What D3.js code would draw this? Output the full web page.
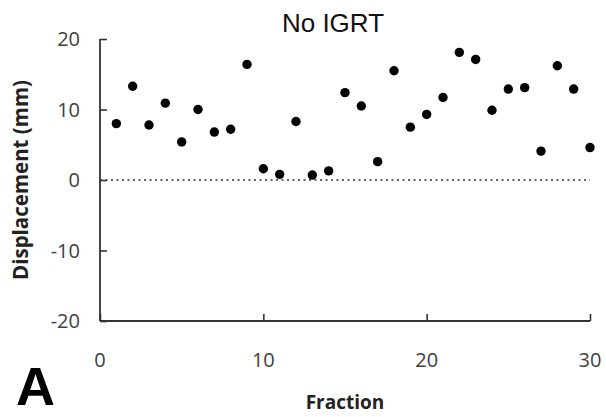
<!DOCTYPE html>
<html>
<head>
<meta charset="utf-8">
<script src="https://cdn.jsdelivr.net/npm/d3@7"></script>
<style>
  body { margin: 0; background: #fff; }
  svg { display: block; }
</style>
</head>
<body>
<svg id="chart" width="606" height="417"></svg>
<script>
// fraction number and measured displacement (mm)
var fractions = d3.range(1, 31);
var displacement = [8.0, 13.3, 7.8, 10.9, 5.4, 10.0, 6.8, 7.2, 16.4, 1.6,
                    0.8, 8.3, 0.7, 1.3, 12.4, 10.5, 2.6, 15.5, 7.5, 9.3,
                    11.7, 18.1, 17.1, 9.9, 12.9, 13.1, 4.1, 16.2, 12.9, 4.6];
var xTicks = [0, 10, 20, 30];
var yTicks = [-20, -10, 0, 10, 20];

var svg = d3.select("#chart");

var x = d3.scaleLinear().domain([0, 30]).range([100, 590]);
var y = d3.scaleLinear().domain([-20, 20]).range([321, 39]);

// axes
var yAxis = svg.append("g")
        .attr("transform", "translate(" + x(0) + ",0)")
        .call(d3.axisRight(y).tickValues(yTicks).tickSize(7).tickFormat(""));
var xAxis = svg.append("g")
        .attr("transform", "translate(0," + y(-20) + ")")
        .call(d3.axisTop(x).tickValues(xTicks).tickSize(7).tickFormat(""));

svg.selectAll(".domain").remove();
svg.selectAll(".tick line")
        .style("stroke", "#333")
        .style("stroke-width", 1.6);

svg.append("line")
        .attr("x1", x(0)).attr("x2", x(0))
        .attr("y1", y(20)).attr("y2", y(-20))
        .style("stroke", "#333")
        .style("stroke-width", 1.8);
svg.append("line")
        .attr("x1", x(0)).attr("x2", x(30))
        .attr("y1", y(-20)).attr("y2", y(-20))
        .style("stroke", "#333")
        .style("stroke-width", 1.8);

// tick labels
svg.selectAll(".ylab")
        .data(yTicks)
        .enter().append("text")
        .attr("class", "ylab")
        .attr("x", 80)
        .attr("y", function(d){ return y(d) + 7; })
        .attr("text-anchor", "end")
        .style("font-family", "'Open Sans', sans-serif")
        .style("font-size", "20px")
        .style("fill", "#404040")
        .text(function(d){ return d; });

svg.selectAll(".xlab")
        .data(xTicks)
        .enter().append("text")
        .attr("class", "xlab")
        .attr("x", function(d){ return x(d); })
        .attr("y", 367)
        .attr("text-anchor", "middle")
        .style("font-family", "'Open Sans', sans-serif")
        .style("font-size", "20px")
        .style("fill", "#404040")
        .text(function(d){ return d; });

// zero reference line
svg.append("line")
        .attr("x1", x(0)).attr("x2", x(30))
        .attr("y1", y(0)).attr("y2", y(0))
        .style("stroke", "#333")
        .style("stroke-width", 1.5)
        .style("stroke-dasharray", "2,3.5");

// points
svg.selectAll(".pt")
        .data(fractions)
        .enter().append("circle")
        .attr("class", "pt")
        .attr("cx", function(d){ return x(d); })
        .attr("cy", function(d, i){ return y(displacement[i]); })
        .attr("r", 4.7)
        .style("fill", "#000");

// titles
svg.append("text")
        .attr("x", 333)
        .attr("y", 32)
        .attr("text-anchor", "middle")
        .style("font-family", "'Liberation Sans', Arial, sans-serif")
        .style("font-size", "26px")
        .style("fill", "#111")
        .text("No IGRT");

svg.append("text")
        .attr("x", 345)
        .attr("y", 409)
        .attr("text-anchor", "middle")
        .style("font-family", "'Open Sans', sans-serif")
        .style("font-size", "19px")
        .style("font-weight", "bold")
        .style("fill", "#222")
        .text("Fraction");

svg.append("text")
        .attr("transform", "translate(28," + y(0) + ") rotate(-90)")
        .attr("text-anchor", "middle")
        .style("font-family", "'Open Sans', sans-serif")
        .style("font-size", "20.5px")
        .style("font-weight", "bold")
        .style("fill", "#222")
        .text("Displacement (mm)");

svg.append("text")
        .attr("x", 16)
        .attr("y", 405)
        .style("font-family", "'Liberation Sans', Arial, sans-serif")
        .style("font-size", "54px")
        .style("font-weight", "bold")
        .style("fill", "#000")
        .text("A");
</script>
</body>
</html>
